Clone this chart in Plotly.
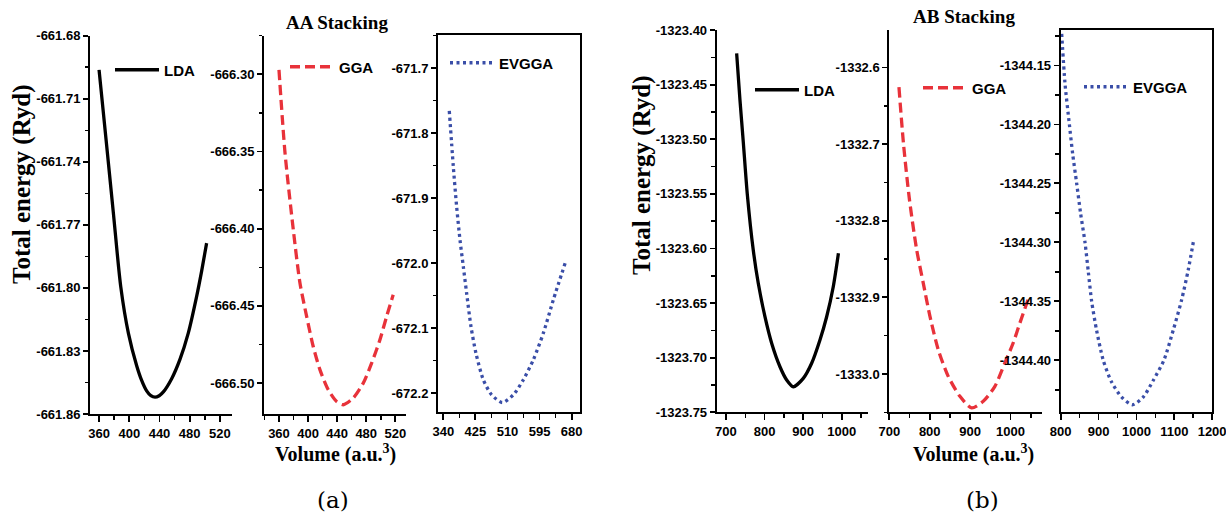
import plotly.graph_objects as go

W, H = 1226, 517

# ---------------- data ----------------
# (a) AA stacking
aa_lda_vol = [360.0, 369.3, 379.0, 388.7, 398.8, 409.8, 416.4, 423.0, 428.6, 434.1, 439.6, 445.1,
              456.1, 467.1, 478.1, 489.2, 495.8, 502.4]
aa_lda_e = [-661.6963, -661.7296, -661.7645, -661.7994, -661.8215, -661.8370, -661.8440, -661.8490,
            -661.8513, -661.8520, -661.8513, -661.8495, -661.8432, -661.8340, -661.8215, -661.8040,
            -661.7920, -661.7787]

aa_gga_vol = [360.0, 368.3, 379.7, 388.9, 398.1, 407.1, 416.4, 427.8, 439.3, 448.4, 462.1, 475.9,
              487.4, 498.8, 508.0, 517.1]
aa_gga_e = [-666.2972, -666.3509, -666.4007, -666.4353, -666.4569, -666.4763, -666.4914, -666.5043,
            -666.5119, -666.5140, -666.5097, -666.5000, -666.4871, -666.4720, -666.4569, -666.4428]

aa_evgga_vol = [355.9, 366.5, 375.3, 384.2, 393.0, 401.8, 413.3, 426.5, 446.0, 468.0, 496.3,
                525.5, 551.9, 578.4, 604.9, 631.4, 664.1]
aa_evgga_e = [-671.7656, -671.8513, -671.9128, -671.9641, -672.0051, -672.0462, -672.0974, -672.1385,
              -672.1795, -672.2026, -672.2144, -672.2026, -672.1795, -672.1487, -672.1077, -672.0564, -671.9974]

# (b) AB stacking
ab_lda_vol = [727.7, 736.3, 745.0, 755.3, 770.7, 783.7, 801.0, 818.4, 839.9, 857.3, 874.4, 900.3,
              922.0, 943.5, 960.9, 978.0, 991.4]
ab_lda_e = [-1323.4214, -1323.4641, -1323.5030, -1323.5504, -1323.6014, -1323.6319, -1323.6625, -1323.6868,
            -1323.7083, -1323.7204, -1323.7266, -1323.7189, -1323.7051, -1323.6838, -1323.6625,
            -1323.6350, -1323.6044]

ab_gga_vol = [723.9, 735.1, 749.9, 767.7, 784.0, 800.6, 821.1, 845.8, 874.7, 903.6, 932.3, 961.2,
              985.9, 1006.4, 1023.0, 1043.0]
ab_gga_e = [-1332.6257, -1332.6995, -1332.7726, -1332.8378, -1332.8813, -1332.9248, -1332.9683, -1333.0031,
            -1333.0292, -1333.0443, -1333.0357, -1333.0162, -1332.9856, -1332.9596, -1332.9335, -1332.9030]

ab_evgga_vol = [802.6, 811.4, 822.9, 831.6, 842.2, 852.7, 864.2, 873.0, 881.8, 894.9, 912.5, 934.5, 960.9,
                989.9, 1018.0, 1044.4, 1072.5, 1097.1, 1119.1, 1136.7, 1151.6]
ab_evgga_e = [-1344.1232, -1344.1655, -1344.2000, -1344.2249, -1344.2500, -1344.2757, -1344.3000, -1344.3251,
              -1344.3500, -1344.3746, -1344.4000, -1344.4184, -1344.4311, -1344.4376, -1344.4311, -1344.4170,
              -1344.4000, -1344.3746, -1344.3492, -1344.3237, -1344.2975]

series_names = ["LDA", "GGA", "EVGGA", "LDA", "GGA", "EVGGA"]

# tick values (labels)
aa_lda_xticks = [360, 400, 440, 480, 520]
aa_gga_xticks = [360, 400, 440, 480, 520]
aa_evgga_xticks = [340, 425, 510, 595, 680]
ab_lda_xticks = [700, 800, 900, 1000]
ab_gga_xticks = [700, 800, 900, 1000]
ab_evgga_xticks = [800, 900, 1000, 1100, 1200]

aa_lda_yticks = [-661.86, -661.83, -661.80, -661.77, -661.74, -661.71, -661.68]
aa_gga_yticks = [-666.50, -666.45, -666.40, -666.35, -666.30]
aa_evgga_yticks = [-672.2, -672.1, -672.0, -671.9, -671.8, -671.7]
ab_lda_yticks = [-1323.75, -1323.70, -1323.65, -1323.60, -1323.55, -1323.50, -1323.45, -1323.40]
ab_gga_yticks = [-1333.0, -1332.9, -1332.8, -1332.7, -1332.6]
ab_evgga_yticks = [-1344.40, -1344.35, -1344.30, -1344.25, -1344.20, -1344.15]

# ---------------- styling / layout ----------------
def px_x(p):
    return p / W

def px_y(p):
    return 1 - p / H

BLACK = "#000000"
RED = "#e8323a"
BLUE = "#3a4ea8"
line_styles = [
    dict(color=BLACK, width=3.3, dash="solid"),
    dict(color=RED, width=3.3, dash="10px,5px"),
    dict(color=BLUE, width=3.3, dash="3px,3.5px"),
    dict(color=BLACK, width=3.3, dash="solid"),
    dict(color=RED, width=3.3, dash="10px,5px"),
    dict(color=BLUE, width=3.3, dash="3px,3.5px"),
]

xs = [aa_lda_vol, aa_gga_vol, aa_evgga_vol, ab_lda_vol, ab_gga_vol, ab_evgga_vol]
ys = [aa_lda_e, aa_gga_e, aa_evgga_e, ab_lda_e, ab_gga_e, ab_evgga_e]

# panel pixel boxes: (left, right, top, bottom)
boxes = [
    (90, 232, 35.7, 414),
    (264, 406, 35.7, 414),
    (438, 580, 35, 412),
    (716.7, 868, 30, 412.3),
    (889.3, 1041.7, 30, 412.3),
    (1060.7, 1212.3, 30, 412.3),
]
xranges = [[348, 536], [339.4, 534.7], [326, 702], [676, 1068], [700, 1077], [800, 1200.5]]
yranges = [[-661.86, -661.68], [-666.52, -666.275], [-672.229, -671.649],
           [-1323.75, -1323.40], [-1333.05, -1332.551], [-1344.444, -1344.12]]
xticks = [aa_lda_xticks, aa_gga_xticks, aa_evgga_xticks, ab_lda_xticks, ab_gga_xticks, ab_evgga_xticks]
yticks = [aa_lda_yticks, aa_gga_yticks, aa_evgga_yticks, ab_lda_yticks, ab_gga_yticks, ab_evgga_yticks]
ydec = [2, 2, 1, 2, 1, 2]
xminor = [(340, 20), (340, 20), (340, 42.5), (650, 50), (650, 50), (800, 50)]
yminor = [(-661.86, 0.015), (-666.50, 0.025), (-672.2, 0.05), (-1323.75, 0.025), (-1333.0, 0.05), (-1344.40, 0.025)]
full_box = [False, False, True, False, False, True]

# legend placement (pixel: line start x, line y)
legend_pos = [(118, 70), (293, 67), (453, 63), (758, 90), (926, 88), (1087, 87)]

TICK_FAMILY = "Liberation Sans"
tick_font = dict(family=TICK_FAMILY, size=13, color="black", weight="bold")
legend_font = dict(family=TICK_FAMILY, size=15, color="black", weight="bold")

fig = go.Figure()
layout = dict(
    template="none",
    width=W, height=H, autosize=False,
    margin=dict(l=0, r=0, t=0, b=0, autoexpand=False),
    paper_bgcolor="white", plot_bgcolor="rgba(0,0,0,0)",
    showlegend=True,
)

for i in range(6):
    k = "" if i == 0 else str(i + 1)
    lg = "legend" if i == 0 else f"legend{i + 1}"
    fig.add_trace(go.Scatter(
        x=xs[i], y=ys[i], mode="lines", name=series_names[i],
        line=dict(shape="spline", smoothing=0.7, **line_styles[i]),
        xaxis="x" + k, yaxis="y" + k, legend=lg, showlegend=True,
        hoverinfo="skip",
    ))
    l, r, t, b = boxes[i]
    mirror = True if full_box[i] else False
    layout["xaxis" + k] = dict(
        domain=[px_x(l), px_x(r)], anchor="y" + k, range=xranges[i], automargin=False,
        showgrid=False, zeroline=False, showline=True, linecolor="black", linewidth=2,
        mirror=mirror, ticklabeloverflow="allow",
        tickmode="array", tickvals=xticks[i], ticktext=[f"<b>{v:g}</b>" for v in xticks[i]],
        ticks="outside", ticklen=6, tickwidth=1.8, tickcolor="black",
        tickfont=tick_font,
        minor=dict(tickmode="linear", tick0=xminor[i][0], dtick=xminor[i][1],
                   ticks="outside", ticklen=3.5, tickwidth=1.5, tickcolor="black", showgrid=False),
    )
    layout["yaxis" + k] = dict(
        domain=[px_y(b), px_y(t)], anchor="x" + k, range=yranges[i], automargin=False,
        showgrid=False, zeroline=False, showline=True, linecolor="black", linewidth=2,
        mirror=mirror, ticklabeloverflow="allow",
        tickmode="array", tickvals=yticks[i],
        ticktext=[f"<b>{v:.{ydec[i]}f}</b>" for v in yticks[i]],
        ticks="outside", ticklen=5, tickwidth=1.8, tickcolor="black",
        tickfont=tick_font,
        minor=dict(tickmode="linear", tick0=yminor[i][0], dtick=yminor[i][1],
                   ticks="outside", ticklen=3.5, tickwidth=1.5, tickcolor="black", showgrid=False),
    )
    lx, ly = legend_pos[i]
    layout[lg] = dict(
        x=px_x(lx - 8), y=px_y(ly), xanchor="left", yanchor="middle",
        bgcolor="rgba(0,0,0,0)", borderwidth=0, font=legend_font, itemwidth=44,
        itemclick=False, itemdoubleclick=False,
    )

# top frame line for the panels without a right-hand axis
for i in range(6):
    if full_box[i]:
        continue
    k = "" if i == 0 else str(i + 1)
    n = 7 + i
    layout[f"xaxis{n}"] = dict(
        domain=layout["xaxis" + k]["domain"], anchor="y" + k, side="top", automargin=False,
        overlaying="x" + k, range=xranges[i], showline=True, linecolor="black", linewidth=2,
        showticklabels=False, ticks="", showgrid=False, zeroline=False,
    )

fig.update_layout(**layout)

title_font = dict(family="Liberation Serif", size=20, color="black", weight="bold")
annotations = [
    dict(text="AA Stacking", x=px_x(336.5), y=px_y(23), xref="paper", yref="paper",
         showarrow=False, font=dict(title_font, size=19), xanchor="center", yanchor="middle"),
    dict(text="AB Stacking", x=px_x(964), y=px_y(17), xref="paper", yref="paper",
         showarrow=False, font=dict(title_font, size=19), xanchor="center", yanchor="middle"),
    dict(text="Volume (a.u.<sup>3</sup>)", x=px_x(335), y=px_y(453), xref="paper", yref="paper",
         showarrow=False, font=title_font, xanchor="center", yanchor="middle"),
    dict(text="Volume (a.u.<sup>3</sup>)", x=px_x(973), y=px_y(453), xref="paper", yref="paper",
         showarrow=False, font=title_font, xanchor="center", yanchor="middle"),
    dict(text="Total energy (Ryd)", x=px_x(22), y=px_y(184), xref="paper", yref="paper",
         showarrow=False, font=dict(title_font, size=25), textangle=-90, xanchor="center", yanchor="middle"),
    dict(text="Total energy (Ryd)", x=px_x(642), y=px_y(175), xref="paper", yref="paper",
         showarrow=False, font=dict(title_font, size=25), textangle=-90, xanchor="center", yanchor="middle"),
    dict(text="(a)", x=px_x(333), y=px_y(500), xref="paper", yref="paper",
         showarrow=False, font=dict(family="DejaVu Serif", size=23, color="black"),
         xanchor="center", yanchor="middle"),
    dict(text="(b)", x=px_x(982), y=px_y(500), xref="paper", yref="paper",
         showarrow=False, font=dict(family="DejaVu Serif", size=23, color="black"),
         xanchor="center", yanchor="middle"),
]
fig.update_layout(annotations=annotations)

fig.write_html(
    "out.html",
    config={"displayModeBar": False, "staticPlot": True},
    post_script="document.body.style.margin='0px';document.body.style.overflow='hidden';",
)
